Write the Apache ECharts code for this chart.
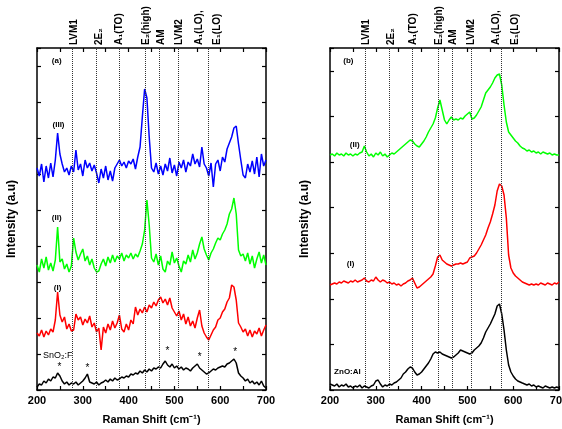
<!DOCTYPE html>
<html><head><meta charset="utf-8">
<script src="https://cdn.jsdelivr.net/npm/echarts@6/dist/echarts.min.js"></script>
<style>html,body{margin:0;padding:0;background:#fff}#c{width:562px;height:429px}</style>
</head><body><div id="c"></div>
<script>
// Raman shift grid (cm^-1)
const ramanShift = [200,205,210,215,220,225,230,235,240,245,250,255,260,265,270,275,280,285,290,295,
300,305,310,315,320,325,330,335,340,345,350,355,360,365,370,375,380,385,390,395,
400,405,410,415,420,425,430,435,440,445,450,455,460,465,470,475,480,485,490,495,
500,505,510,515,520,525,530,535,540,545,550,555,560,565,570,575,580,585,590,595,
600,605,610,615,620,625,630,635,640,645,650,655,660,665,670,675,680,685,690,695,700];

// Panel (a): SnO2:F based spectra (arbitrary intensity, stacked)
const aIII = [222,214,226,208,224,212,227,213,230,257,236,226,218,222,215,224,218,240,220,226,
214,230,222,227,219,225,217,207,221,212,224,210,219,209,222,226,230,224,228,222,
229,226,231,221,233,243,273,301,292,253,222,218,227,216,224,215,226,219,232,217,
225,214,228,222,230,218,228,224,236,226,231,223,243,226,222,214,227,203,226,230,
219,233,228,241,247,253,262,264,246,230,215,212,226,218,229,216,233,213,236,224,230];
const aII = [125,118,131,122,133,120,127,119,130,163,128,131,121,126,118,124,152,138,130,136,
141,129,134,125,131,122,118,119,126,131,124,133,127,135,128,134,131,137,129,135,
132,137,131,136,133,139,146,160,190,165,132,128,136,125,134,121,118,129,125,138,
127,132,124,118,129,126,135,128,140,131,137,146,153,141,135,130,137,141,147,152,
150,156,160,166,176,181,192,176,140,134,136,129,137,126,134,122,131,138,127,135,125];
const aI = [57,54,60,53,59,55,61,58,70,98,75,68,73,61,66,59,60,76,70,73,
65,71,67,74,63,67,58,62,40,63,57,66,60,69,62,67,75,61,58,66,
60,70,66,83,75,81,77,83,78,85,82,88,84,90,93,87,91,85,92,82,
78,74,79,70,76,66,73,64,69,62,72,80,64,57,53,50,55,60,63,70,
72,78,81,88,92,105,103,90,67,63,58,61,54,60,53,59,56,62,54,60,65];
const aSnO2F = [3,6,5,9,7,11,9,13,12,17,14,9,6,8,5,7,6,8,5,7,
9,12,16,8,7,6,8,5,7,8,10,8,11,9,12,10,11,13,12,14,
13,16,15,17,16,19,17,20,18,21,19,22,21,23,22,26,29,25,23,26,
22,24,21,23,20,22,21,19,22,24,26,22,20,18,16,17,19,21,20,22,
23,24,23,26,27,29,31,27,17,14,12,9,11,7,9,6,8,5,9,4,2];

// Panel (b): ZnO:Al based spectra
const bII = [235,236,234,237,235,236,234,237,235,236,234,236,235,237,238,244,238,234,236,233,
237,235,238,234,236,233,235,237,236,238,240,242,244,246,248,250,249,246,244,243,
246,249,253,258,262,266,272,282,290,280,270,266,270,273,270,271,270,272,271,274,
276,278,271,272,275,279,283,290,297,300,303,307,312,315,316,305,285,268,258,255,
252,249,247,244,242,241,239,240,238,239,237,238,236,238,237,236,237,235,236,235,235];
const bI = [105,106,107,106,108,107,109,108,107,109,108,110,108,109,110,112,109,108,110,109,
113,110,108,110,109,107,108,106,107,105,106,104,106,107,109,110,112,107,102,103,
105,107,109,111,113,116,124,133,135,130,128,126,125,124,125,126,126,127,126,127,
128,132,133,134,137,141,145,150,155,162,168,176,185,199,206,204,195,172,135,122,
117,114,112,110,108,107,106,105,106,105,106,105,107,106,105,107,106,105,107,106,108];
const bZnOAl = [6,5,4,6,3,5,4,6,3,4,2,4,3,5,2,4,3,2,4,5,
9,10,6,3,5,4,6,5,7,8,10,12,16,18,21,23,22,18,15,16,
18,21,24,27,31,36,38,37,38,36,35,34,33,32,33,35,37,40,39,38,
37,36,37,40,42,44,47,52,58,62,66,71,76,84,86,76,60,40,25,18,
14,11,9,8,7,6,5,6,4,5,3,4,3,2,4,3,2,3,2,3,2];

// Phonon mode positions (cm^-1) drawn as dotted lines
const modeShift = [277, 330, 380, 437, 468, 508, 574];
const modeNames = ['LVM1','2E\u2082','A\u2081(TO)','E\u2082(high)','AM','LVM2','A\u2081(LO),','E\u2081(LO)'];
const modeNameShiftA = [281, 336, 380, 438, 471, 510, 555, 594];
const modeNameShiftB = [280, 334, 381, 438, 470, 509, 563, 605];

// SnO2 peaks marked with stars (shift, intensity)
const starShift = [249, 310, 485, 555, 633];
const starIntensity = [23, 22, 39, 33, 38];

// Tick labels
const xTickLabels = ['200','300','400','500','600','700'];

const FONT = '"Liberation Sans", Arial, sans-serif';
const chart = echarts.init(document.getElementById('c'), null, {renderer:'canvas'});

function pairs(ys){ return ramanShift.map((x,i)=>[x, ys[i]]); }

function xAxisCfg(grid, pos, labels){
  return {
    type:'value', gridIndex:grid, position:pos, min:200, max:700, interval:50,
    axisLine:{show:true, onZero:false, lineStyle:{color:'#000', width:1.5}},
    axisTick:{show:true, inside:true, length:4, lineStyle:{color:'#000', width:1.2}},
    splitLine:{show:false},
    axisLabel: labels ? {show:true, margin:5, color:'#000', fontSize:11, fontWeight:'bold', fontFamily:FONT,
      hideOverlap:false, showMaxLabel:true,
      formatter: v => xTickLabels.indexOf(String(v)) >= 0 ? String(v) : ''} : {show:false},
    name: labels ? 'Raman Shift (cm\u207B\u00B9)' : '',
    nameLocation:'middle', nameGap:24,
    nameTextStyle:{color:'#000', fontSize:11, fontWeight:'bold', fontFamily:FONT}
  };
}
function yAxisCfg(grid, pos, interval, named){
  return {
    type:'value', gridIndex:grid, position:pos, min:0, max:342, interval:interval,
    axisLine:{show:true, onZero:false, lineStyle:{color:'#000', width:1.5}},
    axisTick:{show:true, inside:true, length:4, lineStyle:{color:'#000', width:1.2}},
    splitLine:{show:false}, axisLabel:{show:false},
    name: named ? 'Intensity (a.u)' : '',
    nameLocation:'middle', nameGap:19,
    nameTextStyle:{color:'#000', fontSize:12, fontWeight:'bold', fontFamily:FONT}
  };
}
function line(data, color, xi, yi, extra){
  return Object.assign({type:'line', data:pairs(data), xAxisIndex:xi, yAxisIndex:yi,
    showSymbol:false, symbol:'none', lineStyle:{color:color, width:1.5}, itemStyle:{color:color},
    silent:true, animation:false}, extra||{});
}
const modeMarks = {
  silent:true, symbol:['none','none'], label:{show:false}, animation:false,
  lineStyle:{type:'dotted', color:'#333', width:1},
  data: modeShift.map(v => ({xAxis:v}))
};

const option = {
  backgroundColor:'#fff',
  animation:false,
  grid:[{left:37, top:48, width:229, height:342, containLabel:false, outerBoundsMode:'none'},
        {left:330, top:48, width:229, height:342, containLabel:false, outerBoundsMode:'none'}],
  xAxis:[xAxisCfg(0,'bottom',true), xAxisCfg(0,'top',false), xAxisCfg(1,'bottom',true), xAxisCfg(1,'top',false)],
  yAxis:[yAxisCfg(0,'left',36,true), yAxisCfg(0,'right',36,false), yAxisCfg(1,'left',45.6,true), yAxisCfg(1,'right',45.6,false)],
  series:[
    line(aSnO2F,'#000000',0,0,{markLine:modeMarks, z:2}),
    line(aI,'#ff0000',0,0),
    line(aII,'#00ff00',0,0),
    line(aIII,'#0000ff',0,0),
    line(bZnOAl,'#000000',2,2,{markLine:modeMarks, z:2}),
    line(bI,'#ff0000',2,2),
    line(bII,'#00ff00',2,2)
  ]
};
chart.setOption(option);

// annotations positioned through the chart's own scales
const graphics = [];
function txt(panel, x, y, text, font, align){
  const p = chart.convertToPixel({xAxisIndex:panel*2, yAxisIndex:panel*2}, [x, y]);
  graphics.push({type:'text', x:p[0], y:p[1], silent:true,
    style:{text:text, fill:'#000', font:font, align:align||'center', verticalAlign:'middle'}});
}
function modeLabels(panel, xs){
  const top = chart.convertToPixel({yAxisIndex:panel*2}, 342);
  xs.forEach((v,i)=>{
    const px = chart.convertToPixel({xAxisIndex:panel*2}, v);
    graphics.push({type:'text', x:px, y:top-3, rotation:Math.PI/2, silent:true,
      style:{text:modeNames[i], fill:'#000', font:'bold 10px '+FONT, align:'left', verticalAlign:'middle'}});
  });
}
modeLabels(0, modeNameShiftA);
modeLabels(1, modeNameShiftB);

const BF = 'bold 8px '+FONT;
txt(0, 243, 329, '(a)', BF);
txt(0, 247, 265, '(III)', BF);
txt(0, 243, 172, '(II)', BF);
txt(0, 245, 102, '(I)', BF);
txt(0, 213, 34, 'SnO\u2082:F', '9px '+FONT, 'left');
starShift.forEach((v,i)=> txt(0, v, starIntensity[i], '*', '10px '+FONT));
txt(1, 240, 329, '(b)', BF);
txt(1, 254, 245, '(II)', BF);
txt(1, 245, 126, '(I)', BF);
txt(1, 209, 18, 'ZnO:Al', 'bold 8px '+FONT, 'left');

chart.setOption({graphic: graphics});
</script>
</body></html>
